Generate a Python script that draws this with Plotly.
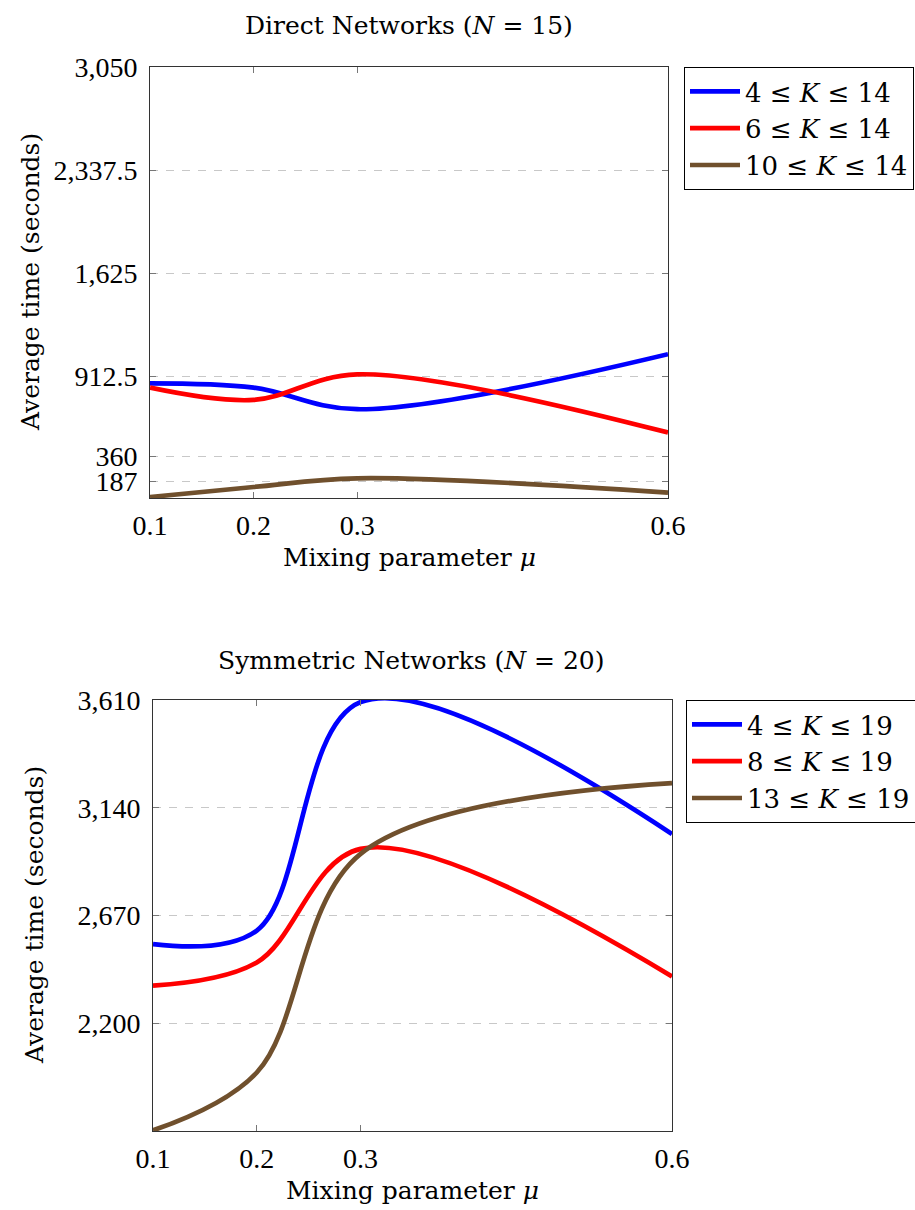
import plotly.graph_objects as go

# ---- data ----
mu = [0.1, 0.2, 0.3, 0.6]

direct_labels = ["4 ≤ <i>K</i> ≤ 14", "6 ≤ <i>K</i> ≤ 14", "10 ≤ <i>K</i> ≤ 14"]
direct_k4 = [866, 836, 687, 1067]
direct_k6 = [836, 751, 928, 526]
direct_k10 = [81, 150, 210, 111]

sym_labels = ["4 ≤ <i>K</i> ≤ 19", "8 ≤ <i>K</i> ≤ 19", "13 ≤ <i>K</i> ≤ 19"]
sym_k4 = [2546, 2605, 3601, 3026]
sym_k8 = [2365, 2466, 2961, 2405]
sym_k13 = [1734, 1986, 2939, 3248]

x_ticks = [0.1, 0.2, 0.3, 0.6]
x_ticktext = ["0.1", "0.2", "0.3", "0.6"]
direct_yticks = [187, 360, 912.5, 1625, 2337.5, 3050]
direct_yticktext = ["187", "360", "912.5", "1,625", "2,337.5", "3,050"]
sym_yticks = [2200, 2670, 3140, 3610]
sym_yticktext = ["2,200", "2,670", "3,140", "3,610"]

colors = ["#0000ff", "#ff0000", "#70502d"]

TICKFONT = "Liberation Serif"
TEXTFONT = "DejaVu Serif"
W, H = 915, 1210

fig = go.Figure()
for ys, name, c in zip([direct_k4, direct_k6, direct_k10], direct_labels, colors):
    fig.add_trace(go.Scatter(x=mu, y=ys, name=name, mode="lines",
                             line=dict(color=c, width=4.7, shape="spline", smoothing=1.0),
                             xaxis="x", yaxis="y", legend="legend"))
for ys, name, c in zip([sym_k4, sym_k8, sym_k13], sym_labels, colors):
    fig.add_trace(go.Scatter(x=mu, y=ys, name=name, mode="lines",
                             line=dict(color=c, width=4.7, shape="spline", smoothing=1.0),
                             xaxis="x2", yaxis="y2", legend="legend2"))

def px_x(p):
    return p / W

def px_y(p):
    return 1 - p / H

axis_common = dict(showline=True, linecolor="#333333", linewidth=1, mirror="allticks",
                   ticks="inside", ticklen=6, tickcolor="#777777", zeroline=False,
                   automargin=False,
                   tickfont=dict(family=TICKFONT, size=28, color="black"))

xaxis_common = dict(axis_common, range=[0.1, 0.6], tickvals=x_ticks, ticktext=x_ticktext,
                    showgrid=False, ticklabelstandoff=2)

legend_common = dict(xanchor="left", yanchor="top", bordercolor="black", borderwidth=1,
                     bgcolor="white", font=dict(family=TEXTFONT, size=26, color="black"),
                     tracegroupgap=0, itemwidth=50)

fig.update_layout(
    width=W, height=H,
    template="none",
    margin=dict(l=0, r=0, t=0, b=0, pad=0, autoexpand=False),
    paper_bgcolor="white", plot_bgcolor="white",
    font=dict(family=TEXTFONT, size=25, color="black"),
    xaxis=dict(xaxis_common, domain=[px_x(150), px_x(668)], anchor="y"),
    yaxis=dict(axis_common, domain=[px_y(498), px_y(67)], anchor="x",
               range=[74, 3050], tickvals=direct_yticks, ticktext=direct_yticktext,
               ticklabelstandoff=6,
               showgrid=True, gridcolor="#c8c8c8", griddash="8px,8px", gridwidth=1),
    xaxis2=dict(xaxis_common, domain=[px_x(153), px_x(672)], anchor="y2"),
    yaxis2=dict(axis_common, domain=[px_y(1131), px_y(700)], anchor="x2",
                range=[1731, 3610], tickvals=sym_yticks, ticktext=sym_yticktext,
                ticklabelstandoff=6,
                showgrid=True, gridcolor="#c8c8c8", griddash="8px,8px", gridwidth=1),
    legend=dict(legend_common, x=px_x(684), y=px_y(67)),
    legend2=dict(legend_common, x=px_x(686), y=px_y(700)),
    showlegend=True,
)

def note(text, x, y, angle=0):
    return dict(text=text, x=px_x(x), y=px_y(y), xref="paper", yref="paper",
                xanchor="center", yanchor="middle", textangle=angle,
                showarrow=False, font=dict(family=TEXTFONT, size=25, color="black"))

ann = [
    note("Direct Networks (<i>N</i> = 15)", 409, 25),
    note("Symmetric Networks (<i>N</i> = 20)", 411, 660),
    note("Mixing parameter <i>μ</i>", 409, 557),
    note("Mixing parameter <i>μ</i>", 412, 1190),
    note("Average time (seconds)", 30, 282, -90),
    note("Average time (seconds)", 34, 915, -90),
]
fig.update_layout(annotations=ann)

fig.write_html("out.html", config={"displayModeBar": False},
               post_script="document.body.style.margin='0px';document.body.style.padding='0px';")
